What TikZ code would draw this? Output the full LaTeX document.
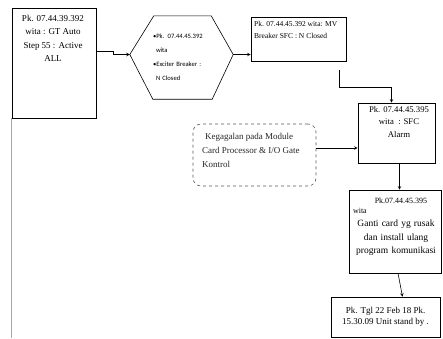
\documentclass[tikz,border=0pt]{standalone}
\usepackage{fontspec}
\setmainfont{Liberation Serif}
\newfontfamily\hexfont{Carlito}
\usepackage{tikz}
\usetikzlibrary{positioning,calc}

\begin{document}
\begin{tikzpicture}[
    x=1pt, y=-1pt,
    box/.style={draw, line width=0.6pt, minimum width=#1},
    box/.default=80pt,
    hexbox/.style={minimum width=103pt, minimum height=83pt, inner sep=0pt},
    causebox/.style={draw=black!65, dashed, rounded corners=8pt, line width=0.6pt},
    txt/.style={inner sep=0pt, align=center},
    flow/.style={-stealth, line width=0.6pt}
    ]
    \useasboundingbox (0,0) rectangle (443,338);

    % boxes
    \node[box=84pt, minimum height=110pt] (box1) at (54,63) {};
    \node[txt, anchor=north, font=\fontsize{9}{13.3}\selectfont] (box1txt) at (53,15)
        {Pk. 07.44.39.392\\ wita : GT Auto\\ Step 55 : Active\\ ALL};
    \draw[gray!70, line width=0.6pt] (box1.south west) -- (box1.south west |- 0,338);

    \node[hexbox, font=\hexfont\fontsize{6.6}{14}\selectfont, align=left, text width=57pt] (hex) at (181.5,57.5)
        {\textbullet Pk. 07.44.45.392\\ \hspace*{3pt}wita\\ \textbullet Exciter Breaker :\\ \hspace*{3pt}N Closed};
    \draw[line width=0.6pt] ([yshift=3pt]hex.west) -- ([xshift=24pt]hex.north west)
        -- ([xshift=-22pt]hex.north east) -- ([yshift=3pt]hex.east)
        -- ([xshift=-21pt]hex.south east) -- ([xshift=23pt]hex.south west) -- cycle;

    \node[box=95pt, minimum height=44pt] (box2) at (298.5,39) {};
    \node[txt, align=left, anchor=north west, font=\fontsize{7.5}{12}\selectfont] (box2txt) at (254,21)
        {Pk. 07.44.45.392 wita: MV\\ Breaker SFC : N Closed};

    \node[box=77pt, minimum height=60pt] (box3) at (396.5,133) {};
    \node[txt, anchor=north, font=\fontsize{8.7}{12.5}\selectfont] (box3txt) at (399,106)
        {Pk. 07.44.45.395\\ wita \ : SFC\\ Alarm};

    \node[causebox, minimum width=123pt, minimum height=62pt] (cause) at (254.5,155) {};
    \node[txt, align=left, anchor=north west, text=black!85, font=\fontsize{9}{14}\selectfont] (causetxt) at (202,133)
        {\hspace*{3pt}Kegagalan pada Module\\ Card Processor \& I/O Gate\\ Kontrol};

    \node[box=92pt, minimum height=83pt] (box4) at (395,231.5) {};
    \node[txt, anchor=north, text width=86pt, font=\fontsize{9.5}{13.5}\selectfont] (box4txt) at (396,198)
        {{\fontsize{8}{9}\selectfont\hspace*{10pt}Pk.07.44.45.395}\\[-4pt]
         \makebox[86pt][l]{\fontsize{8}{9}\selectfont wita}\\
         Ganti card yg rusak\\ dan install ulang\\ program komunikasi};

    \node[box=109pt, minimum height=40pt, txt, font=\fontsize{9}{11}\selectfont] (box5) at (385.5,317)
        {Pk. Tgl 22 Feb 18 Pk.\\ 15.30.09 Unit stand by .};

    % connectors
    \draw[flow] ([yshift=12pt]box1.east) -- ++(17,0) |- ([yshift=3pt]hex.west);
    \draw[flow] ([yshift=3pt]hex.east) -- ([yshift=3pt]hex.east -| box2.west);
    \draw[flow, shorten <=9pt] ([xshift=-7pt]box2.south east) -- ++(0,26) -| ([xshift=-5pt]box3.north);
    \draw[flow] ([yshift=7pt]cause.east) -- ([yshift=7pt]cause.east -| box3.west);
    \draw[flow] ([xshift=3pt]box3.south) -- ([xshift=3pt]box3.south |- box4.north);
    \draw[flow] ([xshift=3pt]box4.south) -- ([xshift=17pt]box5.north);
\end{tikzpicture}
\end{document}
